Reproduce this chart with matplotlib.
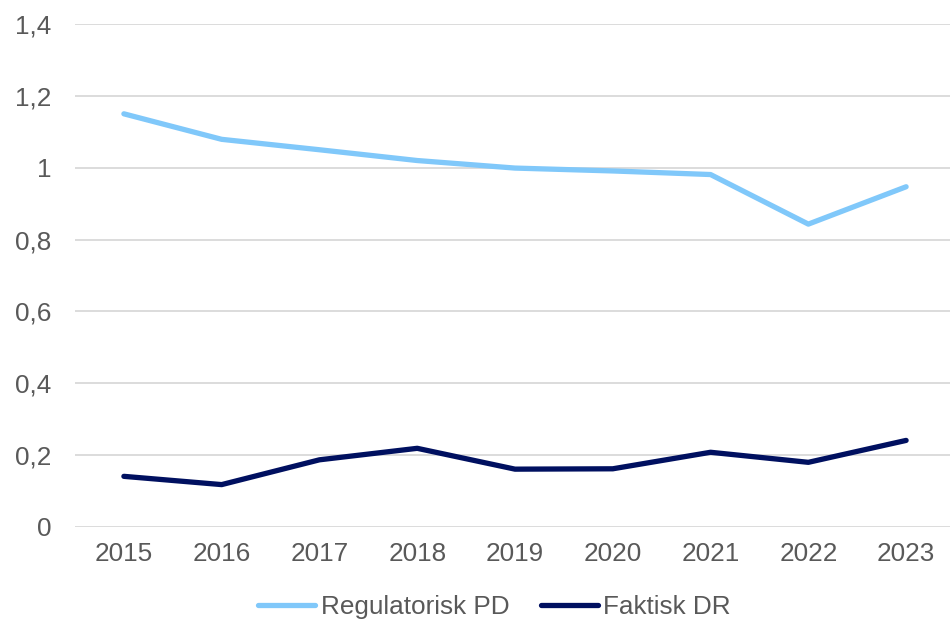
import matplotlib
matplotlib.use("Agg")
import matplotlib.pyplot as plt

years = ["2015", "2016", "2017", "2018", "2019", "2020", "2021", "2022", "2023"]
regulatorisk_pd = [1.150, 1.079, 1.050, 1.020, 0.999, 0.991, 0.981, 0.843, 0.947]
faktisk_dr = [0.141, 0.118, 0.187, 0.219, 0.161, 0.162, 0.208, 0.180, 0.241]
y_ticks = [0, 0.2, 0.4, 0.6, 0.8, 1.0, 1.2, 1.4]
y_tick_labels = ["0", "0,2", "0,4", "0,6", "0,8", "1", "1,2", "1,4"]

plt.rcParams['font.family'] = ['Liberation Sans', 'DejaVu Sans']
FS = 18.8

fig = plt.figure(figsize=(9.5, 6.28), dpi=100)
ax = fig.add_axes([75/950, 1 - 527/628, 880/950, (527 - 24)/628])

x = list(range(len(years)))
ax.plot(x, regulatorisk_pd, color="#80C8FA", lw=3.8, solid_capstyle="round",
        solid_joinstyle="round", label="Regulatorisk PD", zorder=3)
ax.plot(x, faktisk_dr, color="#001060", lw=3.8, solid_capstyle="round",
        solid_joinstyle="round", label="Faktisk DR", zorder=3)

ax.set_xlim(-0.5, len(years) - 0.5)
ax.set_ylim(0, 1.4)
ax.set_yticks(y_ticks)
ax.set_yticklabels(y_tick_labels)
ax.set_xticks(x)
ax.set_xticklabels(years)
ax.tick_params(axis="both", length=0, labelsize=FS, labelcolor="#595959")
ax.tick_params(axis="y", pad=17)
ax.tick_params(axis="x", pad=11)
ax.grid(axis="y", color="#D9D9D9", lw=1.3, zorder=0)
ax.set_axisbelow(True)
for s in ax.spines.values():
    s.set_visible(False)

fig.legend(loc="center", bbox_to_anchor=(0.5205, 1 - 607/628), ncol=2, frameon=False,
           fontsize=FS, labelcolor="#595959", handlelength=2.2, handletextpad=0.2,
           columnspacing=1.2)

fig.savefig("out.png", dpi=100, facecolor="white")
